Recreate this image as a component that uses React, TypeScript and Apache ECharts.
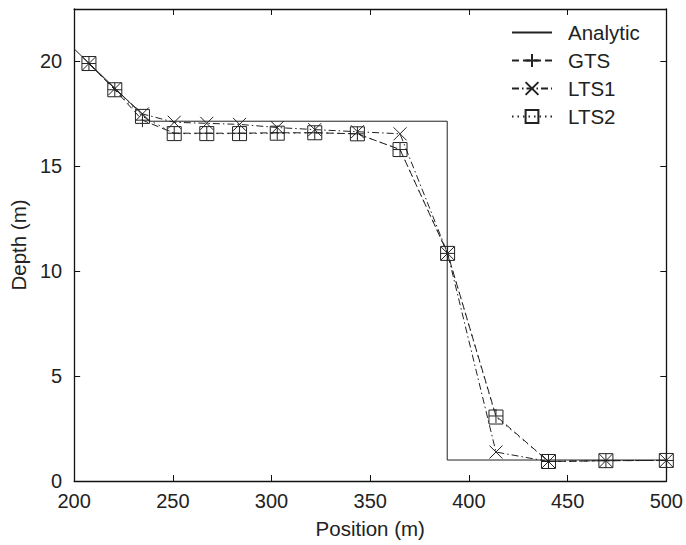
import React, { useEffect, useRef } from "react";
import * as echarts from "echarts";

const positions = [207.5, 220.6, 234.6, 250.7, 267.2, 283.8, 302.9, 321.9, 343.5, 365.1, 389.2, 413.7, 440.3, 469.4, 500];
const gtsDepth = [19.9, 18.65, 17.2, 16.58, 16.58, 16.58, 16.6, 16.6, 16.55, 15.8, 10.85, 3.1, 0.93, 0.97, 0.98];
const lts1Depth = [19.9, 18.7, 17.5, 17.1, 17.05, 17.0, 16.85, 16.75, 16.65, 16.55, 10.85, 1.38, 0.93, 0.97, 0.98];
const lts2Depth = [19.9, 18.65, 17.38, 16.56, 16.56, 16.56, 16.58, 16.6, 16.55, 15.8, 10.85, 3.05, 0.93, 0.97, 0.98];
const analyticX = [200, 238, 389, 389, 500];
const analyticY = [20.6, 17.15, 17.15, 1.0, 1.0];

const xTicks = { min: 200, max: 500, interval: 50 };
const yTicks = { min: 0, max: 22.5, interval: 5 };

const INK = "#222";
const FONT = "Liberation Sans";

const PLUS = "path://M7,0V14M0,7H14";
const CROSS = "path://M0,0L14,14M14,0L0,14";
const SQUARE = "path://M0,0H14V14H0Z";

export default function App() {
  const ref = useRef<HTMLDivElement>(null);
  useEffect(() => {
    if (!ref.current) return;
    const chart = echarts.init(ref.current, undefined, { renderer: "svg" });
    const zip = (xs: number[], ys: number[]) => xs.map((x, i) => [x, ys[i]]);
    const baseAxis = {
      type: "value" as const,
      axisLine: { show: true, onZero: false, lineStyle: { color: "#111", width: 1.3 } },
      axisTick: { show: true, inside: true, length: 6, lineStyle: { color: "#111", width: 1 } },
      splitLine: { show: false },
    };
    const labelStyle = { color: INK, fontSize: 20, fontFamily: FONT };
    const nameStyle = { color: INK, fontSize: 20.5, fontFamily: FONT };
    const markerItem = { color: "rgba(0,0,0,0)", borderColor: INK, borderWidth: 1 };
    chart.setOption({
      animation: false,
      backgroundColor: "#fff",
      grid: { left: 71, right: 17, top: 9, bottom: 64 },
      legend: {
        orient: "vertical",
        left: 511,
        top: 22,
        padding: 0,
        itemWidth: 40,
        itemHeight: 16,
        itemGap: 7,
        textStyle: { color: INK, fontSize: 20.5, fontFamily: FONT, padding: [0, 0, 0, 11] },
        data: ["Analytic", "GTS", "LTS1", "LTS2"],
      },
      xAxis: [
        {
          ...baseAxis,
          ...xTicks,
          position: "bottom",
          axisLabel: { ...labelStyle, margin: 10 },
          name: "Position (m)",
          nameLocation: "middle",
          nameGap: 37,
          nameTextStyle: nameStyle,
        },
        { ...baseAxis, ...xTicks, position: "top", axisLabel: { show: false } },
      ],
      yAxis: [
        {
          ...baseAxis,
          ...yTicks,
          position: "left",
          axisLabel: {
            ...labelStyle,
            margin: 12,
            formatter: (v: number) => (v % 5 === 0 ? String(v) : ""),
          },
          name: "Depth (m)",
          nameLocation: "middle",
          nameGap: 36,
          nameTextStyle: nameStyle,
        },
        { ...baseAxis, ...yTicks, position: "right", axisLabel: { show: false } },
      ],
      series: [
        {
          name: "Analytic",
          type: "line",
          data: zip(analyticX, analyticY),
          symbol: "none",
          lineStyle: { color: INK, width: 1, type: "solid" },
          itemStyle: { color: "rgba(0,0,0,0)", borderWidth: 0 },
        },
        {
          name: "GTS",
          type: "line",
          data: zip(positions, gtsDepth),
          symbol: PLUS,
          symbolSize: 14,
          lineStyle: { color: INK, width: 1, type: [7, 4] },
          itemStyle: markerItem,
        },
        {
          name: "LTS1",
          type: "line",
          data: zip(positions, lts1Depth),
          symbol: CROSS,
          symbolSize: 13,
          lineStyle: { color: INK, width: 1, type: [7, 3, 1.5, 3] },
          itemStyle: markerItem,
        },
        {
          name: "LTS2",
          type: "line",
          data: zip(positions, lts2Depth),
          symbol: SQUARE,
          symbolSize: 14,
          lineStyle: { color: INK, width: 1, type: [1.5, 4] },
          itemStyle: markerItem,
        },
      ],
    });
    return () => chart.dispose();
  }, []);
  return <div ref={ref} style={{ position: "fixed", left: 0, top: 0, width: 686, height: 545 }} />;
}
